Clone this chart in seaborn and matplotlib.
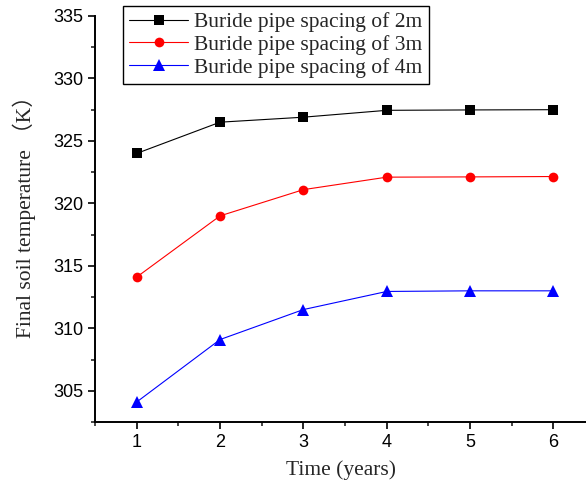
import pandas as pd
import numpy as np
import matplotlib.pyplot as plt
import seaborn as sns
from matplotlib.ticker import MultipleLocator

# data
years = [1, 2, 3, 4, 5, 6]
spacing_2m = [324.0, 326.5, 326.9, 327.45, 327.48, 327.5]
spacing_3m = [314.1, 319.0, 321.1, 322.1, 322.12, 322.15]
spacing_4m = [304.1, 309.1, 311.5, 312.95, 313.0, 313.0]
labels = ['Buride pipe spacing of 2m', 'Buride pipe spacing of 3m', 'Buride pipe spacing of 4m']

df = pd.DataFrame({
    'year': years * 3,
    'temp': spacing_2m + spacing_3m + spacing_4m,
    'series': [labels[0]] * 6 + [labels[1]] * 6 + [labels[2]] * 6,
})

sns.set_style('ticks')
plt.rcParams['font.family'] = ['Liberation Sans', 'DejaVu Sans']

fig = plt.figure(figsize=(5.86, 4.84), dpi=100)
ax = fig.add_axes([95 / 586, 1 - 422 / 484, 491 / 586, 406 / 484])

palette = {labels[0]: 'black', labels[1]: 'red', labels[2]: 'blue'}
markers = {labels[0]: 's', labels[1]: 'o', labels[2]: '^'}
sns.lineplot(data=df, x='year', y='temp', hue='series', style='series',
             palette=palette, markers=markers, dashes=False, markersize=7,
             markeredgewidth=0, linewidth=0.8, ax=ax)

# triangles look a bit larger in the original
for ln in ax.lines:
    if ln.get_marker() == '^':
        ln.set_markersize(8.5)

ax.set_xlim(0.5, 6.39)
ax.set_ylim(302.5, 335)
ax.xaxis.set_major_locator(MultipleLocator(1))
ax.xaxis.set_minor_locator(MultipleLocator(0.5))
ax.yaxis.set_major_locator(MultipleLocator(5))
ax.yaxis.set_minor_locator(MultipleLocator(2.5))
ax.tick_params(which='major', direction='out', length=5, width=1.2, labelsize=13, colors='black')
ax.tick_params(which='minor', direction='out', length=3, width=1.2)
for s in ['top', 'right']:
    ax.spines[s].set_visible(False)
for s in ['left', 'bottom']:
    ax.spines[s].set_linewidth(1.4)
    ax.spines[s].set_color('black')

ax.set_xlabel('Time (years)', fontsize=15.5, family=['Liberation Serif'], labelpad=7)
ax.set_ylabel('Final soil temperature （K）', fontsize=15.5,
              family=['Liberation Serif', 'Noto Sans CJK SC'])
ax.yaxis.set_label_coords(-0.12, 0.517)

leg = ax.legend(loc='upper left', bbox_to_anchor=(28 / 491, 1.025), frameon=True,
                fancybox=False, edgecolor='black', framealpha=1, handlelength=2.7,
                handletextpad=0.3, borderpad=0.3, labelspacing=0.12, borderaxespad=0,
                prop={'family': 'Liberation Serif', 'size': 15.5})
leg.get_frame().set_linewidth(1.0)
for h in leg.legend_handles:
    if h.get_marker() == '^':
        h.set_markersize(8.5)

fig.savefig('out.png', dpi=100)
